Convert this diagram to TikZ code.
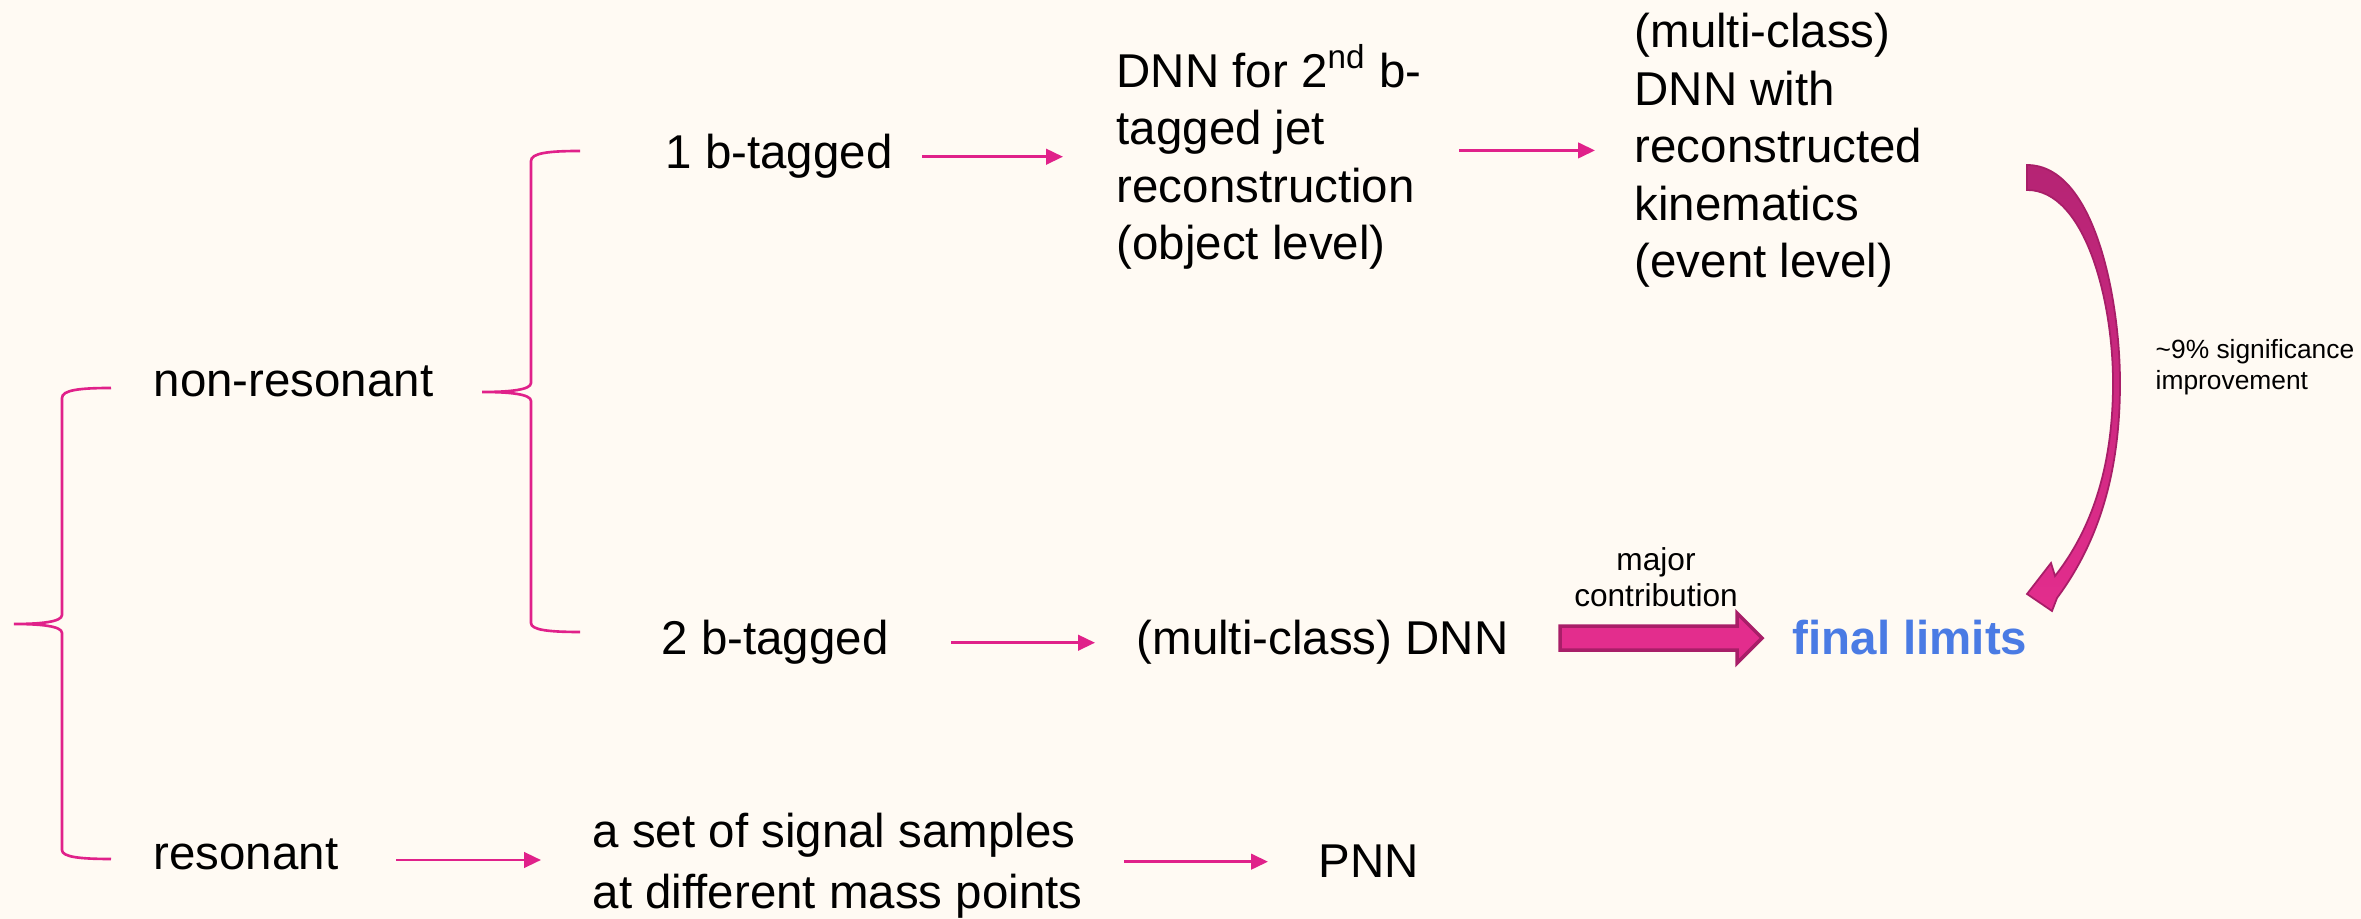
\documentclass[tikz,border=0pt]{standalone}
\usepackage{fontspec}
\setmainfont{Liberation Sans}
\usetikzlibrary{arrows.meta,calc}
\definecolor{bg}{RGB}{255,250,243}
\definecolor{pinkline}{RGB}{224,33,138}
\definecolor{pinkfill}{RGB}{227,45,141}
\definecolor{pinkdark}{RGB}{168,30,104}
\definecolor{plum}{RGB}{181,36,116}
\definecolor{limitblue}{RGB}{74,123,228}
\tikzset{
  txt/.style={inner sep=0pt, anchor=base west, align=left,
    font=\fontsize{13.5pt}{16.4pt}\selectfont},
  note/.style={inner sep=0pt, align=center, font=\fontsize{9pt}{10.5pt}\selectfont},
  flow/.style={draw=pinkline, line width=0.8pt, -{Triangle[length=1.7mm,width=1.55mm]}},
  brace/.style={draw=pinkline, line width=0.75pt},
  fatarrow/.style={fill=pinkfill, draw=pinkdark, line width=1pt, line join=miter},
}
\begin{document}
\begin{tikzpicture}
      \fill[bg] (0,0) rectangle (23.61,-9.19);
      \useasboundingbox (0,0) rectangle (23.61,-9.19);
      % multi-line nodes sit on the baseline of their last line
      \draw
        (1.53,-3.97) node[txt] (nonres) {non-resonant}
        (1.53,-8.70) node[txt] (res) {resonant}
        (6.65,-1.69) node[txt] (onebtag) {1 b-tagged}
        (6.61,-6.55) node[txt] (twobtag) {2 b-tagged}
        (11.16,-2.60) node[txt] (jetdnn) {DNN for 2\textsuperscript{nd} b-\\tagged jet\\reconstruction\\(object level)}
        (16.34,-2.78) node[txt] (evtdnn) {(multi-class)\\DNN with\\reconstructed\\kinematics\\(event level)}
        (11.36,-6.55) node[txt] (mcdnn) {(multi-class) DNN}
        (17.92,-6.55) node[txt, font=\fontsize{13.5pt}{16.4pt}\selectfont\bfseries, text=limitblue] (limits) {final limits}
        (5.92,-9.09) node[txt, font=\fontsize{13.5pt}{17.6pt}\selectfont] (samples) {a set of signal samples\\at different mass points}
        (13.18,-8.78) node[txt] (pnn) {PNN}
        (16.56,-6.07) node[note, anchor=base] (major) {major\\contribution}
        (21.55,-3.90) node[note, anchor=base west, align=left, font=\fontsize{7.5pt}{9.1pt}\selectfont] (gain) {\textasciitilde9\% significance\\improvement};
      % braces
      \draw[brace] (1.11,-3.88) .. controls (0.80,-3.88) and (0.62,-3.90) .. (0.62,-3.98)
        -- (0.62,-6.15) .. controls (0.62,-6.22) and (0.40,-6.24) .. (0.14,-6.24)
        .. controls (0.40,-6.24) and (0.62,-6.26) .. (0.62,-6.33)
        -- (0.62,-8.50) .. controls (0.62,-8.57) and (0.80,-8.59) .. (1.11,-8.59);
      \draw[brace] (5.80,-1.51) .. controls (5.49,-1.51) and (5.31,-1.53) .. (5.31,-1.61)
        -- (5.31,-3.83) .. controls (5.31,-3.90) and (5.09,-3.92) .. (4.82,-3.92)
        .. controls (5.09,-3.92) and (5.31,-3.94) .. (5.31,-4.01)
        -- (5.31,-6.23) .. controls (5.31,-6.30) and (5.49,-6.32) .. (5.80,-6.32);
      \begin{scope}
        \draw[flow, shorten <=2.9mm, shorten >=5.3mm] (onebtag.east) -- (onebtag.east -| jetdnn.west);
        \draw[flow, shorten <=3.7mm, shorten >=3.9mm] (evtdnn.west -| jetdnn.east) -- (evtdnn.west);
        \draw[flow, shorten <=6.2mm, shorten >=4.1mm] (twobtag.east) -- (twobtag.east -| mcdnn.west);
        \draw[flow, shorten <=5.7mm, shorten >=5.1mm] ($(res.base east)+(0,0.10)$) -- ($(res.base east -| samples.west)+(0,0.10)$);
        \draw[flow, shorten <=4.1mm, shorten >=5.0mm] (pnn.west -| samples.east) -- (pnn.west);
      \end{scope}
      % major contribution
      \coordinate (fa1) at ($(limits.west)+(-0.30,0)$);
      \coordinate (fa0) at ($(mcdnn.east |- fa1)+(0.51,0)$);
      \draw[fatarrow] ($(fa0)+(0,0.12)$) -- ($(fa1)+(-0.25,0.12)$) -- ($(fa1)+(-0.25,0.25)$)
        -- (fa1) -- ($(fa1)+(-0.25,-0.25)$) -- ($(fa1)+(-0.25,-0.12)$) -- ($(fa0)+(0,-0.12)$) -- cycle;
      % significance improvement
      \shade[top color=plum, bottom color=pinkfill, draw=pinkdark, line width=0.5pt]
        (20.27,-1.65) .. controls (20.95,-1.65) and (21.20,-3.00) .. (21.20,-3.83)
        .. controls (21.20,-4.70) and (21.00,-5.40) .. (20.57,-5.98)
        -- (20.52,-6.11) -- (20.27,-5.94) -- (20.51,-5.63) -- (20.55,-5.76)
        .. controls (20.95,-5.25) and (21.13,-4.60) .. (21.13,-3.83)
        .. controls (21.13,-3.00) and (20.85,-1.90) .. (20.27,-1.90) -- cycle;
    \end{tikzpicture}
\end{document}
